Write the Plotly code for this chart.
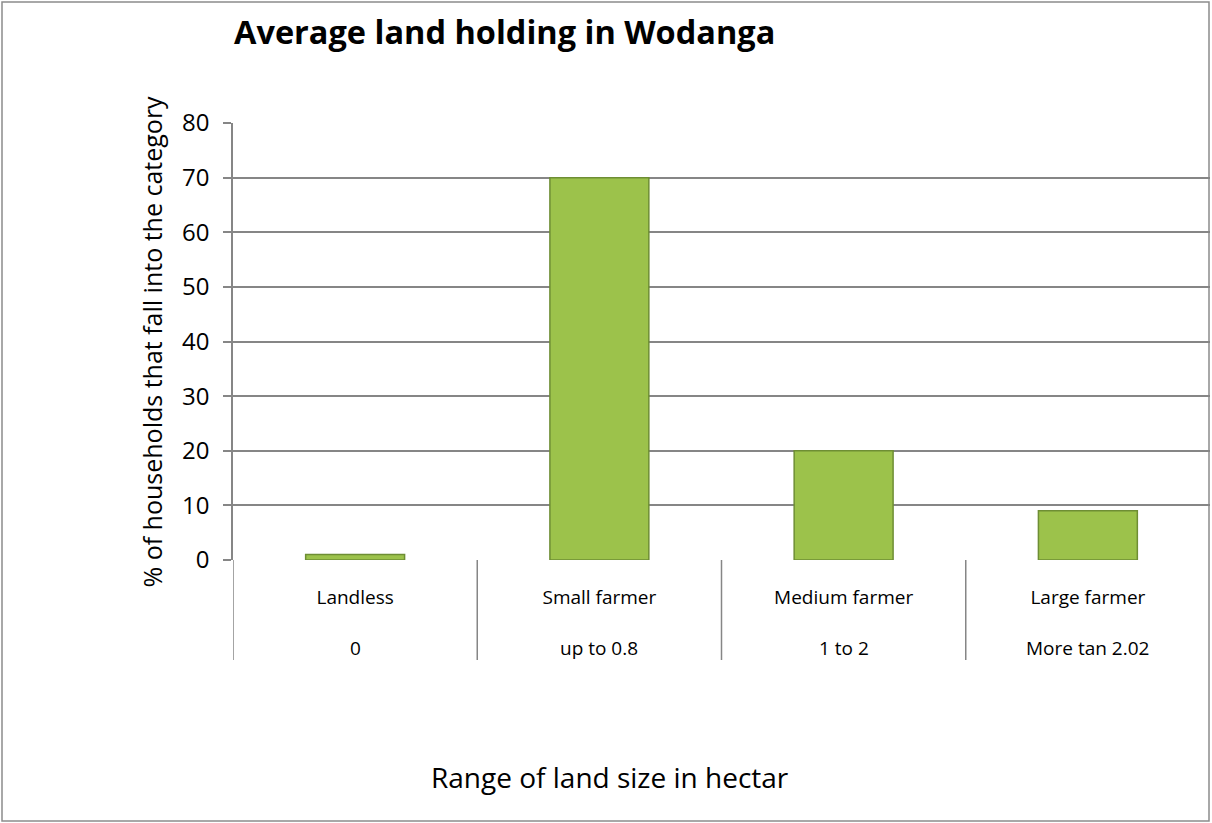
import plotly.graph_objects as go

# data
categories = ["Landless", "Small farmer", "Medium farmer", "Large farmer"]
ranges = ["0", "up to 0.8", "1 to 2", "More tan 2.02"]
shares = [1, 70, 20, 9]
y_ticks = [0, 10, 20, 30, 40, 50, 60, 70, 80]

FONT = "Open Sans"
GRID = "#868686"

W, H = 1212, 823
left, right, top, bottom = 233, 1210, 123, 560
pw, ph = right - left, bottom - top


def px_x(p):
    return (p - left) / pw


def px_y(p):
    return (bottom - p) / ph


fig = go.Figure()
fig.add_trace(go.Bar(
    x=categories,
    y=shares,
    marker=dict(color="#9CC24B", line=dict(color="#6E8E34", width=1.5)),
    width=0.405,
    hoverinfo="x+y",
))

# second line of the category labels
for cat, rng in zip(categories, ranges):
    fig.add_annotation(x=cat, y=px_y(648), xref="x", yref="paper", text=rng,
                       yanchor="middle", showarrow=False,
                       font=dict(family=FONT, size=19, color="black"))

# separators between categories, reaching down through both label rows
for i in range(len(categories)):
    fig.add_shape(type="line", xref="x", yref="paper", x0=i - 0.5, x1=i - 0.5,
                  y0=0, y1=px_y(660), line=dict(color=GRID, width=1.5))

# outer chart border
fig.add_shape(type="rect", xref="paper", yref="paper",
              x0=px_x(2), x1=px_x(1209), y0=px_y(821), y1=px_y(2),
              line=dict(color="#8c8c8c", width=1.5), layer="below")

fig.add_annotation(x=px_x(151), y=0.5, xref="paper", yref="paper",
                   text="% of households that fall into the category", textangle=-90,
                   xanchor="center", yanchor="middle", showarrow=False,
                   font=dict(family=FONT, size=25, color="black"))
fig.add_annotation(x=px_x(610), y=px_y(777), xref="paper", yref="paper",
                   text="Range of land size in hectar", xanchor="center", yanchor="middle",
                   showarrow=False, font=dict(family=FONT, size=28, color="black"))

fig.update_layout(
    width=W, height=H,
    margin=dict(l=left, r=W - right, t=top, b=H - bottom),
    paper_bgcolor="white", plot_bgcolor="white",
    showlegend=False,
    title=dict(text="<b>Average land holding in Wodanga</b>", x=234 / W, xanchor="left",
               y=1 - 33 / H, yanchor="middle",
               font=dict(family=FONT, size=32.5, color="black")),
    xaxis=dict(
        range=[-0.5, 3.5], showgrid=False, ticks="", showline=False, zeroline=False,
        tickfont=dict(family=FONT, size=19, color="black"),
        ticklabelstandoff=24,
    ),
    yaxis=dict(
        range=[0, 80], tickvals=y_ticks, showgrid=True, gridcolor=GRID, gridwidth=1.5,
        showline=True, linecolor=GRID, linewidth=1.5, zeroline=False,
        ticks="outside", ticklen=8, tickcolor=GRID, tickwidth=1.5,
        tickfont=dict(family=FONT, size=24, color="black"),
        ticklabelstandoff=9,
    ),
)

fig.write_html("out.html", config={"displayModeBar": False},
               post_script="document.body.style.margin='0';")
